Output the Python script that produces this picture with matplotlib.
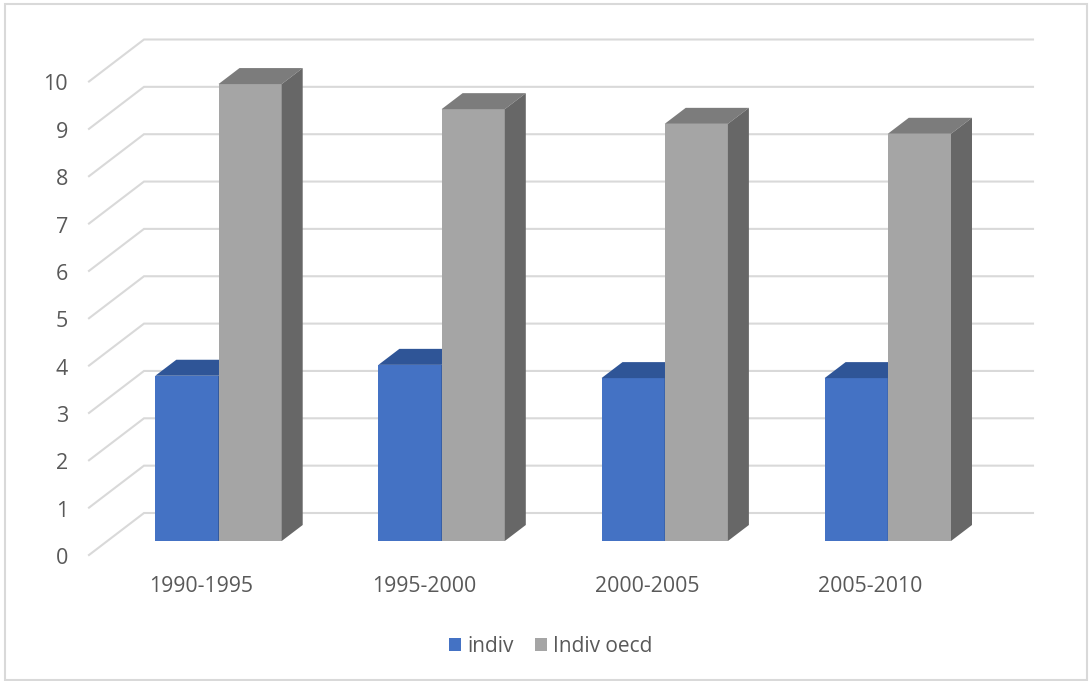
import matplotlib
matplotlib.use('Agg')
import matplotlib.pyplot as plt
from matplotlib.patches import Polygon, Patch, Rectangle
import numpy as np

categories = ['1990-1995', '1995-2000', '2000-2005', '2005-2010']
indiv = [3.49, 3.72, 3.44, 3.44]
indiv_oecd = [9.65, 9.12, 8.81, 8.60]
y_ticks = list(range(0, 11))

plt.rcParams['font.family'] = ['Open Sans', 'DejaVu Sans']
TEXT = '#595959'
GRID = '#d9d9d9'

W, H = 1090, 681
PX_X = 223.1     # pixels per category
PX_Y = 47.35     # pixels per value unit
x0, y0 = 218.5, 541.0

fig = plt.figure(figsize=(W / 100, H / 100), dpi=100, facecolor='white')
ax = fig.add_axes([0, 0, 1, 1])
ax.set_xlim(-x0 / PX_X, (W - x0) / PX_X)
ax.set_ylim((y0 - H) / PX_Y, y0 / PX_Y)
ax.axis('off')

bar_w = 63.2 / PX_X
depth_x, depth_y = 21 / PX_X, 16 / PX_Y


def draw_bar(left, value, front, top, side, z):
    ax.bar(left, value, bar_w, align='edge', color=front, zorder=z)
    right = left + bar_w
    ax.add_patch(Polygon([(left, value), (right, value),
                          (right + depth_x, value + depth_y), (left + depth_x, value + depth_y)],
                         closed=True, fc=top, ec='none', zorder=z))
    ax.add_patch(Polygon([(right, 0), (right + depth_x, depth_y),
                          (right + depth_x, value + depth_y), (right, value)],
                         closed=True, fc=side, ec='none', zorder=z))


# floor and back wall gridlines, plus the slanted side wall
back_dy = 28 / PX_Y
front_dy = -14 / PX_Y
wall_left = (144 - x0) / PX_X
wall_front = (89 - x0) / PX_X
wall_right = (1033 - x0) / PX_X
for t in y_ticks:
    ax.plot([wall_front, wall_left, wall_right], [t + front_dy, t + back_dy, t + back_dy],
            color=GRID, lw=1.5, zorder=1, solid_joinstyle='miter')
    ax.text((68 - x0) / PX_X, t + front_dy - 3.5 / PX_Y, str(t), ha='right', va='center',
            fontsize=15.5, color=TEXT)

for i, cat in enumerate(categories):
    draw_bar(i - bar_w, indiv[i], '#4472c4', '#2f5597', '#264478', 2)
    draw_bar(i, indiv_oecd[i], '#a5a5a5', '#7c7c7c', '#676767', 3)
    ax.text(i - 17.5 / PX_X, -45.5 / PX_Y, cat, ha='center', va='center', fontsize=15.3, color=TEXT)

handles = [Patch(fc='#4472c4', label='indiv'), Patch(fc='#a5a5a5', label='Indiv oecd')]
ax.legend(handles=handles, loc='center', bbox_to_anchor=(551 / W, 1 - 646 / H), ncol=2, frameon=False,
          fontsize=15, labelcolor=TEXT, handlelength=0.58, handleheight=0.58,
          handletextpad=0.3, columnspacing=1.0, borderpad=0)

# chart frame
fig.add_artist(Rectangle((5 / W, 1 - 680 / H), 1082 / W, 676 / H, transform=fig.transFigure,
                         fc='none', ec=GRID, lw=1.5))

fig.savefig('out.png', dpi=100)
